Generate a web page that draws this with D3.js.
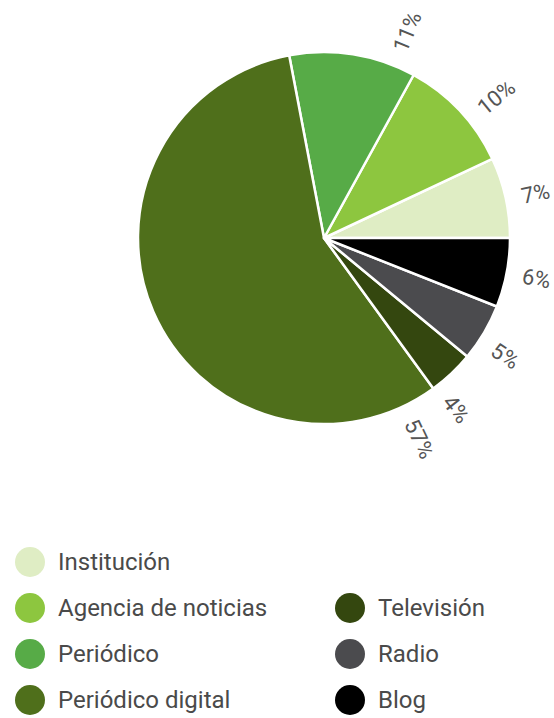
<!DOCTYPE html>
<html>
<head>
<meta charset="utf-8">
<script src="https://cdn.jsdelivr.net/npm/d3@7"></script>
<style>
  body { margin: 0; background: #fff; }
  svg { display: block; font-family: Roboto, sans-serif; }
</style>
</head>
<body>
<script>
// legend order (pie runs counter-clockwise from 3 o'clock in this order)
const categories = ['Institución', 'Agencia de noticias', 'Periódico', 'Periódico digital', 'Televisión', 'Radio', 'Blog'];
const shares = [7, 10, 11, 57, 4, 5, 6];
const colors = ['#dfedc4', '#8dc63f', '#57ab47', '#4f6f1b', '#34470f', '#4b4b4e', '#000000'];

const data = categories.map((c, i) => ({ name: c, value: shares[i], color: colors[i] }));

const width = 554, height = 718;
const cx = 324, cy = 238, r = 186;

// labels are pushed round to the right side, like the original
const labelNudge = { 'Institución': 0.7, 'Agencia de noticias': 4, 'Periódico': 13, 'Periódico digital': -92, 'Televisión': 5.5, 'Radio': 2.5, 'Blog': 0 };

const svg = d3.select('body').append('svg')
  .attr('width', width)
  .attr('height', height);

const pie = d3.pie()
  .sort(null)
  .value(d => d.value)
  .startAngle(Math.PI / 2)
  .endAngle(Math.PI / 2 - 2 * Math.PI);

const arc = d3.arc().innerRadius(0).outerRadius(r);

const g = svg.append('g').attr('transform', `translate(${cx},${cy})`);

const arcs = pie(data);

g.selectAll('path.slice').data(arcs)
  .enter()
  .append('path')
  .attr('class', 'slice')
  .attr('d', arc)
  .attr('fill', d => d.data.color)
  .attr('stroke', '#fff')
  .attr('stroke-width', 2.5)
  .attr('stroke-linejoin', 'round');

const labelR = r + 16;
g.selectAll('text.pct').data(arcs)
  .enter()
  .append('text')
  .attr('class', 'pct')
  .attr('transform', d => {
    let deg = ((d.startAngle + d.endAngle) / 2) * 180 / Math.PI + labelNudge[d.data.name];
    deg = ((deg % 360) + 360) % 360;
    const a = deg * Math.PI / 180;
    const x = labelR * Math.sin(a), y = -labelR * Math.cos(a);
    return `translate(${x},${y}) rotate(${deg - 90})`;
  })
  .attr('text-anchor', 'start')
  .attr('dominant-baseline', 'central')
  .style('font-size', '22px')
  .style('fill', '#555')
  .text(d => `${d.data.value}%`);

// legend: two columns, second column bottom aligned
const rowY = [562, 608, 654, 700];
const legendPos = [[30, 0], [30, 1], [30, 2], [30, 3], [350, 1], [350, 2], [350, 3]];

const leg = svg.selectAll('g.legend').data(data)
  .enter()
  .append('g')
  .attr('class', 'legend')
  .attr('transform', (d, i) => `translate(${legendPos[i][0]},${rowY[legendPos[i][1]]})`);

leg.append('circle')
  .attr('r', 15)
  .attr('fill', d => d.color);

leg.append('text')
  .attr('x', 28)
  .attr('dominant-baseline', 'central')
  .style('font-size', '24px')
  .style('fill', '#4a4a4a')
  .text(d => d.name);
</script>
</body>
</html>
